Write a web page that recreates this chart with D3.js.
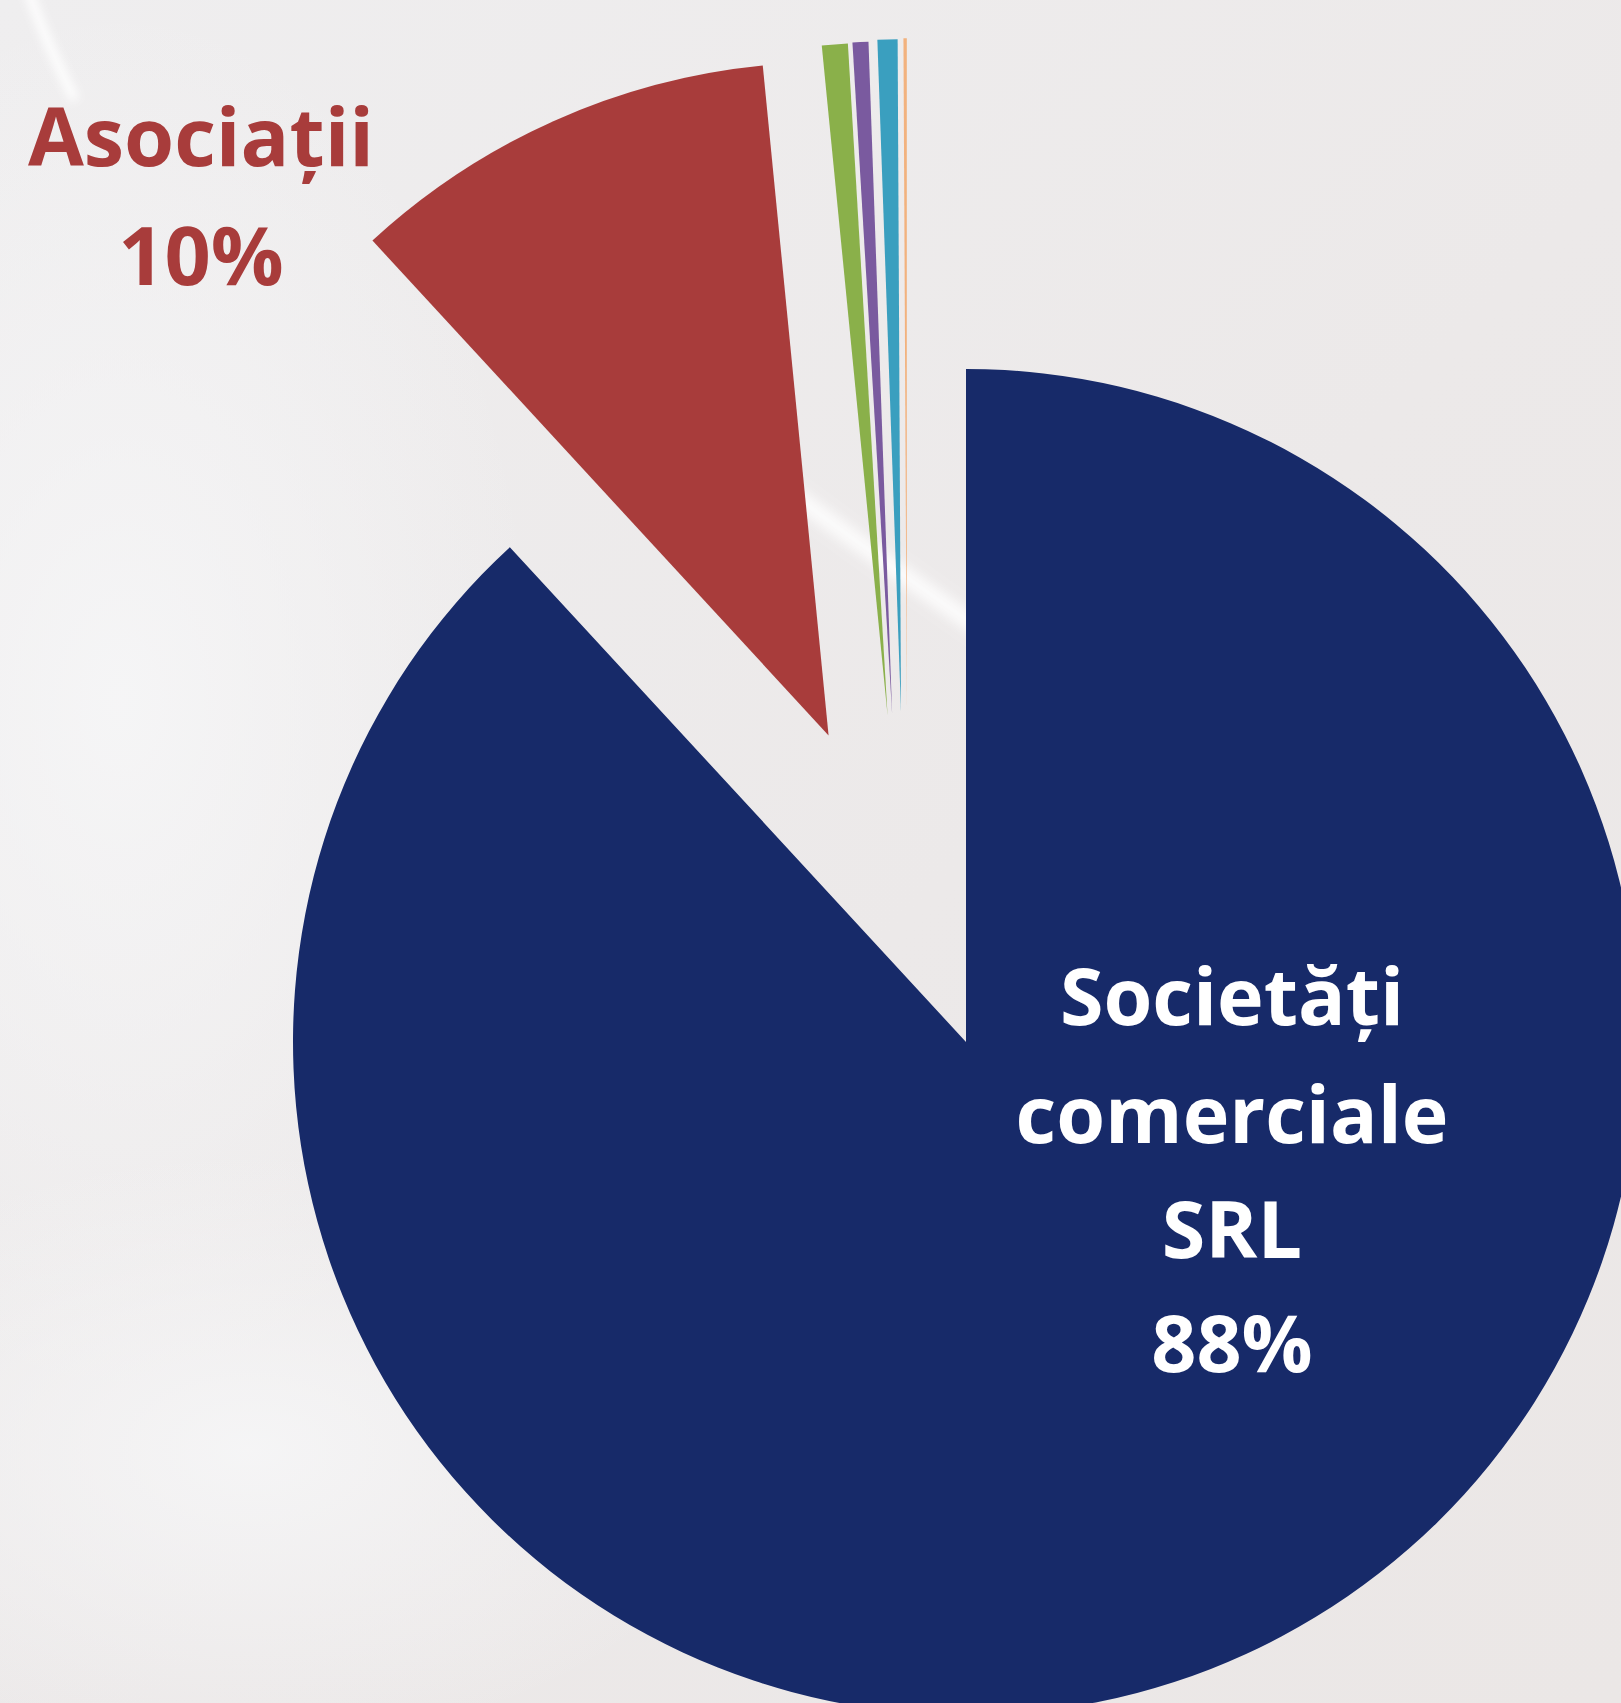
<!DOCTYPE html>
<html>
<head>
<meta charset="utf-8">
<script src="https://cdn.jsdelivr.net/npm/d3@7"></script>
<style>
  html, body { margin: 0; padding: 0; background: #ece9e9; }
  svg { display: block; }
</style>
</head>
<body>
<svg id="chart" width="1621" height="1703"></svg>
<script>
// ---- data ----
const categories = ["Societăți comerciale SRL", "Asociații", "Altele 1", "Altele 2", "Altele 3", "Altele 4"];
const values = [88.2, 10.3, 0.62, 0.38, 0.48, 0.08];
const percentLabels = ["88%", "10%", "", "", "", ""];
const labelLines = [["Societăți", "comerciale", "SRL"], ["Asociații"], [], [], [], []];

// ---- style / layout ----
const colors = ["#172a69", "#a83c3b", "#8ab04a", "#7a5a9f", "#3a9fbf", "#f2b27e"];
const explodeDist = [0, 336, 336, 336, 336, 336];
const explodeSkewDeg = [0, 0, -9, -10, -10, -10];
const W = 1621, H = 1703;
const cx = 966, cy = 1042, R = 673;

const svg = d3.select("#chart");
const defs = svg.append("defs");

// background
const bg = defs.append("linearGradient").attr("id", "bg").attr("x1", 0).attr("y1", 0).attr("x2", 1).attr("y2", 1);
bg.append("stop").attr("offset", "0%").attr("stop-color", "#efeeef");
bg.append("stop").attr("offset", "55%").attr("stop-color", "#ece9e9");
bg.append("stop").attr("offset", "100%").attr("stop-color", "#ebe7e6");
svg.append("rect").attr("width", W).attr("height", H).attr("fill", "url(#bg)");

const glow = defs.append("radialGradient").attr("id", "glow");
glow.append("stop").attr("offset", "0%").attr("stop-color", "#f6f6f7").attr("stop-opacity", 0.9);
glow.append("stop").attr("offset", "100%").attr("stop-color", "#f6f6f7").attr("stop-opacity", 0);
svg.append("ellipse").attr("cx", 120).attr("cy", 700).attr("rx", 420).attr("ry", 700).attr("fill", "url(#glow)");
svg.append("ellipse").attr("cx", 250).attr("cy", 1450).attr("rx", 500).attr("ry", 300).attr("fill", "url(#glow)");

const blur = defs.append("filter").attr("id", "blur").attr("x", "-50%").attr("y", "-50%").attr("width", "200%").attr("height", "200%");
blur.append("feGaussianBlur").attr("stdDeviation", 7);
const blur2 = defs.append("filter").attr("id", "blur2").attr("x", "-50%").attr("y", "-50%").attr("width", "200%").attr("height", "200%");
blur2.append("feGaussianBlur").attr("stdDeviation", 5);

// light streaks
svg.append("path")
  .attr("d", "M 760 470 Q 880 560 1010 650")
  .attr("stroke", "#ffffff").attr("stroke-width", 16).attr("fill", "none")
  .attr("opacity", 0.95).attr("filter", "url(#blur)");
svg.append("path")
  .attr("d", "M 28 -10 Q 45 40 75 100")
  .attr("stroke", "#ffffff").attr("stroke-width", 10).attr("fill", "none")
  .attr("opacity", 0.9).attr("filter", "url(#blur2)");

// pie
const pie = d3.pie().sort(null).value(d => d)(values);
const arc = d3.arc().innerRadius(0).outerRadius(R);

const g = svg.append("g").attr("transform", `translate(${cx},${cy})`);
g.selectAll("path.slice")
  .data(pie)
  .join("path")
  .attr("class", "slice")
  .attr("fill", (d, i) => colors[i])
  .attr("d", arc)
  .attr("transform", (d, i) => {
    const mid = (d.startAngle + d.endAngle) / 2 + explodeSkewDeg[i] * Math.PI / 180;
    const dx = Math.sin(mid) * explodeDist[i];
    const dy = -Math.cos(mid) * explodeDist[i];
    return `translate(${dx},${dy})`;
  });

// labels
const font = "'Open Sans', Lato, sans-serif";
const lab1 = svg.append("text")
  .attr("text-anchor", "middle")
  .attr("font-family", font).attr("font-weight", 700)
  .attr("font-size", 81).attr("fill", colors[1]);
lab1.append("tspan").attr("x", 201).attr("y", 166).text(labelLines[1][0]);
lab1.append("tspan").attr("x", 201).attr("y", 285).text(percentLabels[1]);

const lab0 = svg.append("text")
  .attr("text-anchor", "middle")
  .attr("font-family", font).attr("font-weight", 700)
  .attr("font-size", 79).attr("fill", "#ffffff");
const ys = [1025, 1143, 1258, 1372];
labelLines[0].concat([percentLabels[0]]).forEach((t, k) => {
  lab0.append("tspan").attr("x", 1232).attr("y", ys[k]).text(t);
});
</script>
</body>
</html>
